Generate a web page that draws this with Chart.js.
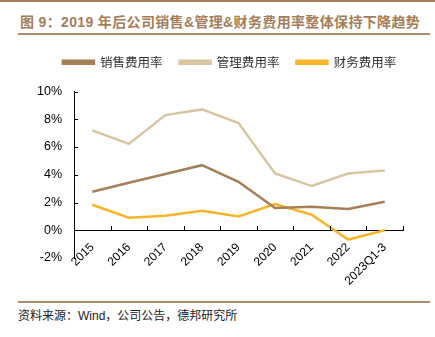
<!DOCTYPE html>
<html>
<head>
<meta charset="utf-8">
<script src="https://cdn.jsdelivr.net/npm/chart.js@4"></script>
<style>
  body { margin: 0; width: 435px; height: 337px; background: #fff; position: relative; overflow: hidden; font-family: "Liberation Sans", "Noto Sans CJK SC", sans-serif; }
  .topbar { position: absolute; left: 0; top: 0; width: 435px; height: 2px; background: #a27c58; }
  .title { position: absolute; left: 20px; top: 11px; font-family: "Liberation Sans", "Noto Sans CJK SC", sans-serif; font-weight: bold; font-size: 14px; letter-spacing: 0.35px; color: #a47e5a; white-space: nowrap; }
  .rule { position: absolute; left: 18px; width: 412px; height: 1.5px; background: #b08d68; }
  .source { position: absolute; left: 18px; top: 306px; font-size: 12px; color: #222; font-family: "Liberation Sans", "Noto Sans CJK SC", sans-serif; white-space: nowrap; }
  #wrap { position: absolute; left: 0; top: 39px; width: 435px; height: 255px; }
</style>
</head>
<body>
<div class="topbar"></div>
<div class="title">图 9：2019 年后公司销售&amp;管理&amp;财务费用率整体保持下降趋势</div>
<div class="rule" style="top:33px"></div>
<div id="wrap"><canvas id="myChart"></canvas></div>
<div class="rule" style="top:301px"></div>
<div class="source">资料来源：Wind，公司公告，德邦研究所</div>
<script>
const categories = ['2015', '2016', '2017', '2018', '2019', '2020', '2021', '2022', '2023Q1-3'];
const salesRate = [2.78, 3.42, 4.05, 4.69, 3.49, 1.60, 1.70, 1.53, 2.06];
const mgmtRate = [7.20, 6.22, 8.30, 8.71, 7.73, 4.09, 3.20, 4.09, 4.30];
const financeRate = [1.84, 0.91, 1.05, 1.41, 1.00, 1.89, 1.12, -0.67, 0.00];
const yTicks = [-2, 0, 2, 4, 6, 8, 10];

const tweaks = {
    id: 'tweaks',
    beforeInit(chart) {
        // more room under the legend
        const fit = chart.legend.fit;
        chart.legend.fit = function () {
            fit.call(this);
            this.height += 13;
        };
    },
    afterLayout(chart) {
        // shift legend a bit to the right, like the original
        chart.legend.left = 30;
        chart.legend.right = 429;
    },
    afterDraw(chart) {
        // ticks pointing inward, drawn by hand
        const c = chart.ctx;
        const y = chart.scales.y;
        const a = chart.chartArea;
        const y0 = Math.round(y.getPixelForValue(0));
        c.save();
        c.strokeStyle = '#000';
        c.lineWidth = 1;
        c.beginPath();
        const n = categories.length;
        for (let i = 1; i <= n; i++) {
            const px = Math.round(a.left + i * (a.right - a.left) / n) + 0.5;
            c.moveTo(px, y0);
            c.lineTo(px, y0 - 4);
        }
        yTicks.forEach(v => {
            if (v === 0 || v === -2) return;
            const py = Math.round(y.getPixelForValue(v)) + 0.5;
            c.moveTo(a.left, py);
            c.lineTo(a.left + 4, py);
        });
        c.stroke();
        c.restore();
    }
};

const ctx = document.getElementById('myChart').getContext('2d');
const myChart = new Chart(ctx, {
    type: 'line',
    data: {
        labels: categories,
        datasets: [{
            label: '销售费用率',
            data: salesRate,
            borderColor: 'rgb(166, 127, 88)',
            backgroundColor: 'rgb(166, 127, 88)',
            borderWidth: 2.5,
            pointRadius: 0,
            tension: 0
        }, {
            label: '管理费用率',
            data: mgmtRate,
            borderColor: 'rgb(216, 198, 160)',
            backgroundColor: 'rgb(216, 198, 160)',
            borderWidth: 2.5,
            pointRadius: 0,
            tension: 0
        }, {
            label: '财务费用率',
            data: financeRate,
            borderColor: 'rgb(247, 182, 41)',
            backgroundColor: 'rgb(247, 182, 41)',
            borderWidth: 2.5,
            pointRadius: 0,
            tension: 0
        }]
    },
    options: {
        responsive: true,
        maintainAspectRatio: false,
        animation: false,
        layout: { padding: { left: 0, right: 32, top: 0, bottom: 36 } },
        plugins: {
            tooltip: { enabled: false },
            legend: {
                position: 'top',
                labels: {
                    boxWidth: 31,
                    boxHeight: 3,
                    padding: 17,
                    color: '#333',
                    font: { family: '"Noto Sans CJK SC", sans-serif', size: 12.5 }
                }
            }
        },
        scales: {
            x: {
                position: { y: 0 },
                offset: true,
                grid: { display: false },
                border: { display: true, color: '#000', width: 1 },
                ticks: {
                    color: '#000',
                    minRotation: 45,
                    maxRotation: 45,
                    autoSkip: false,
                    padding: 2,
                    font: { family: '"Liberation Sans", sans-serif', size: 12 }
                }
            },
            y: {
                min: -2,
                max: 10,
                afterFit(scale) { scale.width = 74; },
                afterBuildTicks(scale) { scale.ticks = yTicks.map(v => ({ value: v })); },
                grid: { display: false },
                border: { display: true, color: '#000', width: 1 },
                ticks: {
                    color: '#000',
                    padding: 4,
                    font: { family: '"Liberation Sans", sans-serif', size: 12.5 },
                    callback: v => v + '%'
                }
            }
        }
    },
    plugins: [tweaks]
});
</script>
</body>
</html>
